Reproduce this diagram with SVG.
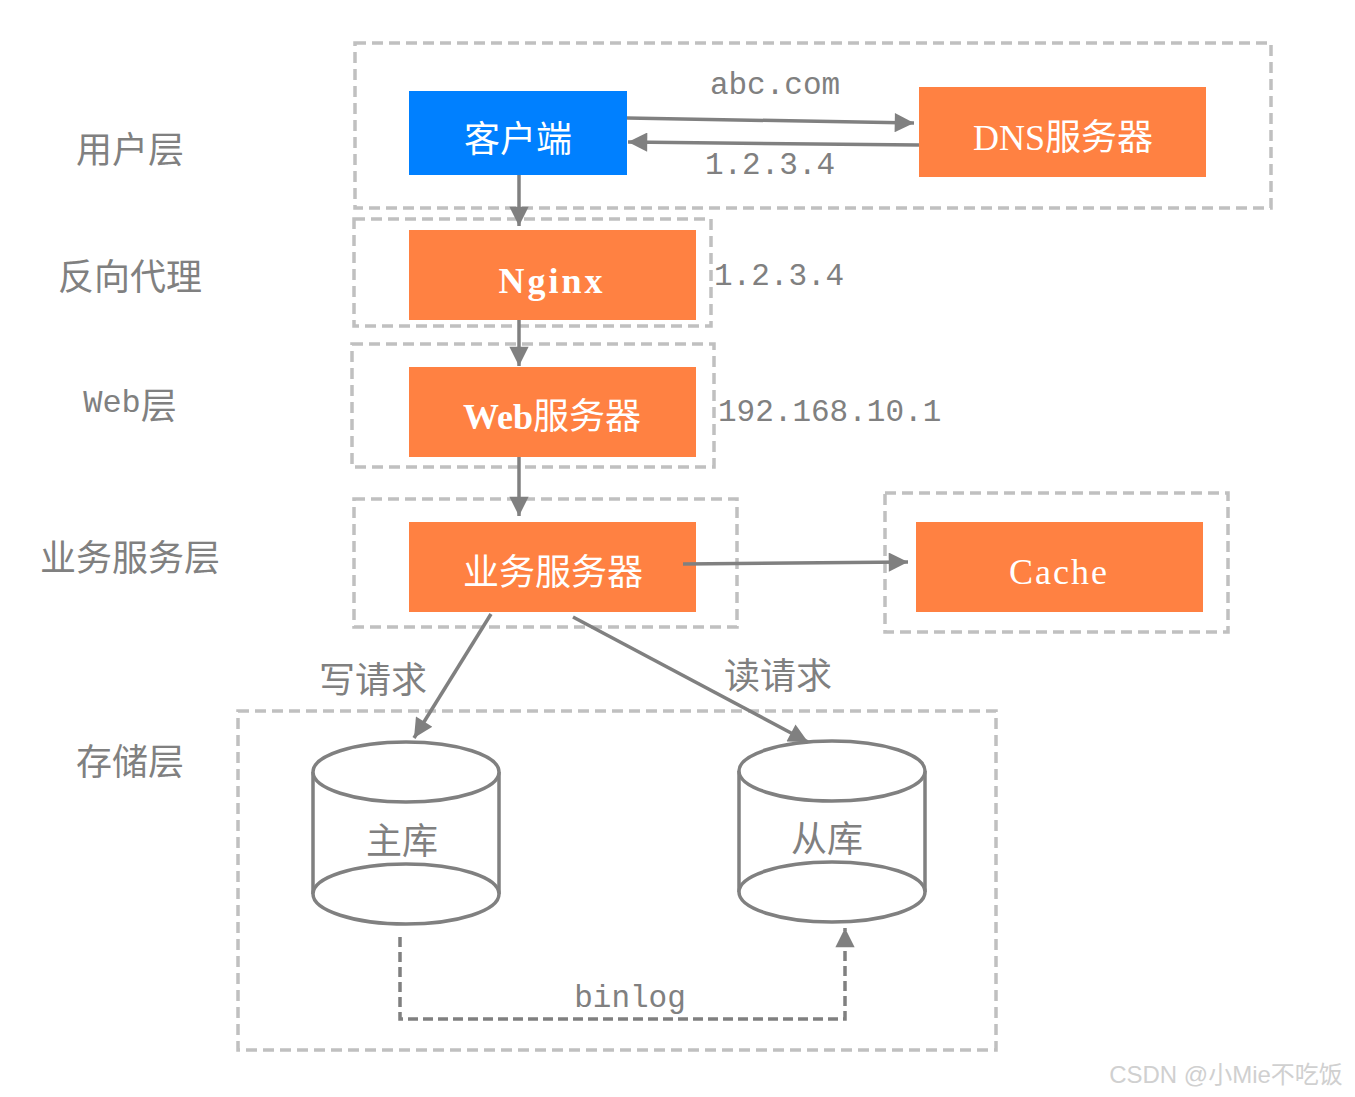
<svg xmlns="http://www.w3.org/2000/svg" width="1355" height="1097" viewBox="0 0 1355 1097">
<defs>
<marker id="ah" viewBox="0 0 10 10" refX="10" refY="5" markerWidth="6.5" markerHeight="5.5" markerUnits="strokeWidth" orient="auto">
<path d="M0,0 L10,5 L0,10 Z" fill="#808080"/>
</marker>
<style>
.grp{fill:none;stroke:#C0C0C0;stroke-width:3.5;stroke-dasharray:11 6}
.box{fill:#FF8142}
.blue{fill:#0080FF}
.wt{fill:#fff;font-family:"Liberation Serif","Noto Sans CJK SC",serif;font-size:36px;text-anchor:middle;dominant-baseline:central}
.lbl{fill:#808080;font-family:"Noto Sans CJK SC",sans-serif;font-size:36px;text-anchor:middle;dominant-baseline:central}
.num{fill:#808080;font-family:"Liberation Mono","Noto Sans CJK SC",monospace;font-size:31px;dominant-baseline:central}
.ln{fill:none;stroke:#808080;stroke-width:3.5}
.cyl{fill:#fff;stroke:#808080;stroke-width:3.5}
</style>
</defs>
<g id="group-user"><rect class="grp" x="355" y="43" width="916" height="165"/></g>
<g id="group-proxy"><rect class="grp" x="354" y="219" width="357" height="107"/></g>
<g id="group-web"><rect class="grp" x="352" y="344" width="362" height="123"/></g>
<g id="group-biz"><rect class="grp" x="354" y="499" width="383" height="128"/></g>
<g id="group-cache"><rect class="grp" x="885" y="493" width="343" height="139"/></g>
<g id="group-storage"><rect class="grp" x="238" y="711" width="758" height="339"/></g>

<g id="layer-labels">
<text class="lbl" x="130" y="147">用户层</text>
<text class="lbl" x="130" y="274">反向代理</text>
<text class="lbl" x="130" y="403"><tspan font-family="Liberation Mono,monospace" font-size="32">Web</tspan>层</text>
<text class="lbl" x="130" y="555">业务服务层</text>
<text class="lbl" x="130" y="759">存储层</text>
</g>

<g id="client"><rect class="blue" x="409" y="91" width="218" height="84"/><text class="wt" x="518" y="140" font-family="Noto Sans CJK SC,sans-serif" font-size="38">客户端</text></g>
<g id="dns"><rect class="box" x="919" y="87" width="287" height="90"/><text class="wt" x="1063" y="138">DNS服务器</text></g>
<g id="nginx"><rect class="box" x="409" y="230" width="287" height="90"/><text class="wt" x="552" y="281" font-weight="bold" letter-spacing="3">Nginx</text></g>
<g id="web"><rect class="box" x="409" y="367" width="287" height="90"/><text class="wt" x="552" y="417"><tspan font-weight="bold">Web</tspan>服务器</text></g>
<g id="biz"><rect class="box" x="409" y="522" width="287" height="90"/><text class="wt" x="553" y="573" font-family="Noto Sans CJK SC,sans-serif" font-size="38">业务服务器</text></g>
<g id="cache"><rect class="box" x="916" y="522" width="287" height="90"/><text class="wt" x="1059" y="572" letter-spacing="2">Cache</text></g>

<g id="master">
<path class="cyl" d="M313,772 L313,894 A93,30 0 0 0 499,894 L499,772"/>
<ellipse class="cyl" cx="406" cy="772" rx="93" ry="30"/>
<path class="cyl" d="M313,894 A93,30 0 0 1 499,894" fill="none"/>
<text class="lbl" x="402" y="838">主库</text>
</g>
<g id="slave">
<path class="cyl" d="M739,771 L739,892 A93,30 0 0 0 925,892 L925,771"/>
<ellipse class="cyl" cx="832" cy="771" rx="93" ry="30"/>
<path class="cyl" d="M739,892 A93,30 0 0 1 925,892" fill="none"/>
<text class="lbl" x="827" y="836">从库</text>
</g>

<g id="connectors">
<line class="ln" x1="627" y1="118" x2="914" y2="123" marker-end="url(#ah)"/>
<line class="ln" x1="919" y1="145" x2="628" y2="142" marker-end="url(#ah)"/>
<line class="ln" x1="519" y1="175" x2="519" y2="226" marker-end="url(#ah)"/>
<line class="ln" x1="519" y1="320" x2="519" y2="366" marker-end="url(#ah)"/>
<line class="ln" x1="519" y1="457" x2="519" y2="516" marker-end="url(#ah)"/>
<line class="ln" x1="683" y1="564" x2="908" y2="562" marker-end="url(#ah)"/>
<line class="ln" x1="491" y1="614" x2="414" y2="738" marker-end="url(#ah)"/>
<line class="ln" x1="573" y1="617" x2="808" y2="742" marker-end="url(#ah)"/>
<path class="ln" d="M400,937 L400,1019 L845,1019 L845,928" stroke-dasharray="10 5" marker-end="url(#ah)"/>
</g>

<g id="edge-labels">
<text class="num" x="775" y="85" text-anchor="middle">abc.com</text>
<text class="num" x="770" y="165" text-anchor="middle">1.2.3.4</text>
<text class="num" x="714" y="276">1.2.3.4</text>
<text class="num" x="718" y="412">192.168.10.1</text>
<text class="lbl" x="373" y="677">写请求</text>
<text class="lbl" x="778" y="673">读请求</text>
<text class="num" x="630" y="998" text-anchor="middle">binlog</text>
</g>

<text x="1226" y="1074" fill="#D0D0D0" font-family="Liberation Sans,Noto Sans CJK SC,sans-serif" font-size="24" text-anchor="middle" dominant-baseline="central">CSDN @小Mie不吃饭</text>
</svg>
